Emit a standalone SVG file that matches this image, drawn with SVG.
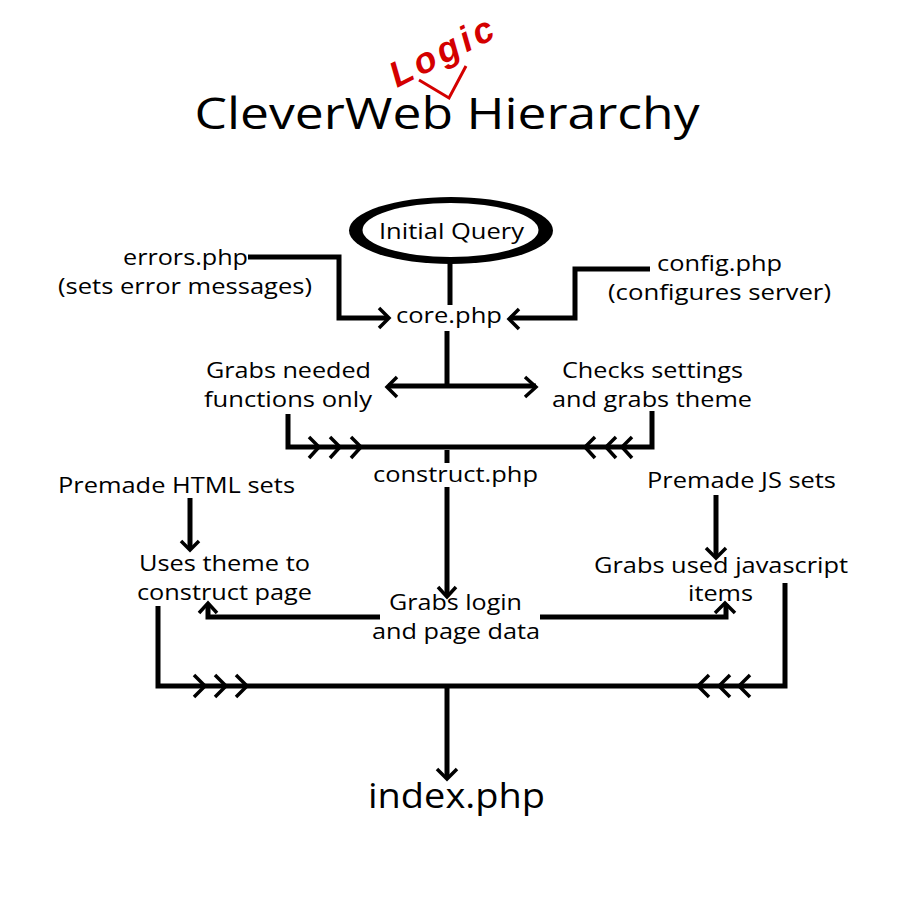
<svg xmlns="http://www.w3.org/2000/svg" width="900" height="900" viewBox="0 0 900 900">
<style>
text{font-family:"Open Sans","Noto Sans",sans-serif;fill:#000;font-size:22px;text-anchor:middle;lengthAdjust:spacingAndGlyphs}
.l{fill:none;stroke:#000;stroke-width:5;stroke-linejoin:miter}
.h{fill:none;stroke:#000;stroke-width:3.5}
</style>
<rect width="900" height="900" fill="#fff"/>
<g id="title">
<text x="447" y="129" style="font-size:44px" textLength="505" lengthAdjust="spacingAndGlyphs">CleverWeb Hierarchy</text>
<text x="0" y="0" transform="translate(397 88) rotate(-27)" style="font-size:36px;text-anchor:start;fill:#d40000;font-family:'Liberation Sans',sans-serif;font-style:italic;font-weight:bold" textLength="112" lengthAdjust="spacing">Logic</text>
<path d="M419 80L449 98L466 66" fill="none" stroke="#d40000" stroke-width="3"/>
</g>
<g id="connectors">
<path class="l" d="M450 262V305"/>
<path class="l" d="M447 331V386"/>
<path class="l" d="M248 257H339V318H388"/>
<path class="h" d="M379 308L389 318L379 328"/>
<path class="l" d="M650 269H575V318H510"/>
<path class="h" d="M519 309L509 319L519 329"/>
<path class="l" d="M388 386H536"/>
<path class="h" d="M397 377L387 387L397 397M525 377L536 387L525 397"/>
<path class="l" d="M288 414V447H652V411"/>
<path class="h" d="M309 437L319 447L309 458M330 437L340 447L330 458M351 437L361 447L351 458M595 437L585 447L595 458M616 437L606 447L616 458M632 437L622 447L632 458"/>
<path class="l" d="M447 450V463"/>
<path class="l" d="M447 487V596"/>
<path class="h" d="M438 587L447 597L456 587"/>
<path class="l" d="M190 498V548"/>
<path class="h" d="M181 541L190 550L199 541"/>
<path class="l" d="M716 495V556"/>
<path class="h" d="M706 548L716 558L726 548"/>
<path class="l" d="M380 617H208V604"/>
<path class="h" d="M199 613L208 603L217 613"/>
<path class="l" d="M540 617H726V604"/>
<path class="h" d="M715 613L725 603L735 613"/>
<path class="l" d="M158 606V686H785V583"/>
<path class="h" d="M194 675L205 686L194 697M215 675L226 686L215 697M236 675L247 686L236 697M709 675L698 686L709 697M730 675L719 686L730 697M750 675L739 686L750 697"/>
<path class="l" d="M447 686V778"/>
<path class="h" d="M437 769L447 779L457 769"/>
</g>
<g id="initial-query">
<ellipse cx="451" cy="230.500" rx="102" ry="33.500" fill="#000"/>
<ellipse cx="450.500" cy="230" rx="88" ry="27" fill="#fff"/>
<text x="451.500" y="239" textLength="145" lengthAdjust="spacingAndGlyphs">Initial Query</text>
</g>
<g id="errors"><text x="185.500" y="265" textLength="125" lengthAdjust="spacingAndGlyphs">errors.php</text><text x="185" y="294" textLength="254" lengthAdjust="spacingAndGlyphs">(sets error messages)</text></g>
<g id="config"><text x="719.500" y="271" textLength="125" lengthAdjust="spacingAndGlyphs">config.php</text><text x="719.500" y="300" textLength="223" lengthAdjust="spacingAndGlyphs">(configures server)</text></g>
<g id="core"><text x="449" y="323" textLength="106" lengthAdjust="spacingAndGlyphs">core.php</text></g>
<g id="grabs-functions"><text x="288.500" y="378" textLength="165" lengthAdjust="spacingAndGlyphs">Grabs needed</text><text x="288" y="407" textLength="168" lengthAdjust="spacingAndGlyphs">functions only</text></g>
<g id="checks-settings"><text x="652.500" y="378" textLength="181" lengthAdjust="spacingAndGlyphs">Checks settings</text><text x="652" y="407" textLength="200" lengthAdjust="spacingAndGlyphs">and grabs theme</text></g>
<g id="construct"><text x="455.500" y="482" textLength="165" lengthAdjust="spacingAndGlyphs">construct.php</text></g>
<g id="premade-html"><text x="176.500" y="493" textLength="237" lengthAdjust="spacingAndGlyphs">Premade HTML sets</text></g>
<g id="premade-js"><text x="741.500" y="488" textLength="189" lengthAdjust="spacingAndGlyphs">Premade JS sets</text></g>
<g id="uses-theme"><text x="224.500" y="571" textLength="171" lengthAdjust="spacingAndGlyphs">Uses theme to</text><text x="224.500" y="600" textLength="175" lengthAdjust="spacingAndGlyphs">construct page</text></g>
<g id="grabs-js"><text x="721" y="573" textLength="254" lengthAdjust="spacingAndGlyphs">Grabs used javascript</text><text x="720.500" y="601" textLength="65" lengthAdjust="spacingAndGlyphs">items</text></g>
<g id="grabs-login"><text x="455.500" y="610" textLength="133" lengthAdjust="spacingAndGlyphs">Grabs login</text><text x="456" y="639" textLength="168" lengthAdjust="spacingAndGlyphs">and page data</text></g>
<g id="index"><text x="456.500" y="808" style="font-size:34px" textLength="177" lengthAdjust="spacingAndGlyphs">index.php</text></g>
</svg>
